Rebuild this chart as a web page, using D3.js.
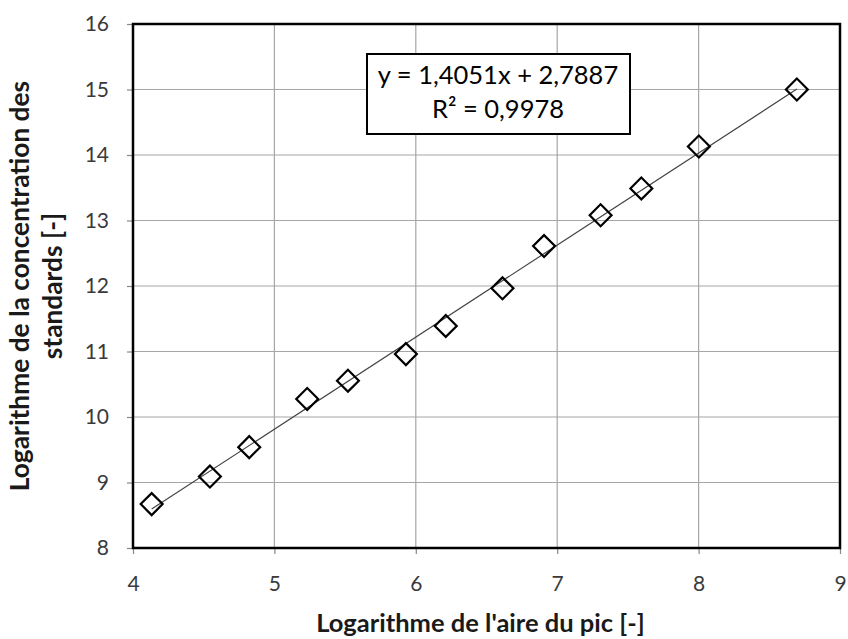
<!DOCTYPE html>
<html><head><meta charset="utf-8">
<script src="https://cdn.jsdelivr.net/npm/d3@7"></script>
<style>body{margin:0;background:#fff}svg{display:block}</style>
</head><body>
<svg id="c" width="848" height="639"></svg>
<script>
const xVals = [4.132, 4.544, 4.822, 5.232, 5.52, 5.93, 6.212, 6.613, 6.907, 7.307, 7.595, 8.002, 8.695];
const yVals = [8.67, 9.09, 9.54, 10.275, 10.555, 10.96, 11.39, 11.965, 12.61, 13.08, 13.49, 14.13, 15.0];
const xTicks = [4, 5, 6, 7, 8, 9];
const yTicks = [8, 9, 10, 11, 12, 13, 14, 15, 16];
const slope = 1.4051, intercept = 2.7887;
const eqLines = ["y = 1,4051x + 2,7887", "R² = 0,9978"];
const xTitle = "Logarithme de l'aire du pic [-]";
const yTitleLines = ["Logarithme de la concentration des", "standards [-]"];

const font = "Lato, 'Open Sans', sans-serif";
const L = 133, R = 840, T = 24, B = 548;
const svg = d3.select("#c");
const x = d3.scaleLinear().domain([4, 9]).range([L, R]);
const y = d3.scaleLinear().domain([8, 16]).range([B, T]);

// gridlines
svg.append("g").selectAll("line").data(xTicks).join("line")
  .attr("x1", d => x(d)).attr("x2", d => x(d)).attr("y1", T).attr("y2", B)
  .attr("stroke", "#a6a6a6").attr("stroke-width", 1.2);
svg.append("g").selectAll("line").data(yTicks).join("line")
  .attr("x1", L).attr("x2", R).attr("y1", d => y(d)).attr("y2", d => y(d))
  .attr("stroke", "#a6a6a6").attr("stroke-width", 1.2);

// axes
const xa = svg.append("g").attr("transform", `translate(0,${B})`)
  .call(d3.axisBottom(x).tickValues(xTicks).tickSize(6).tickPadding(22).tickFormat(d3.format("d")));
const ya = svg.append("g").attr("transform", `translate(${L},0)`)
  .call(d3.axisLeft(y).tickValues(yTicks).tickSize(6).tickPadding(18).tickFormat(d3.format("d")));
[xa, ya].forEach(a => {
  a.select(".domain").attr("stroke", "#888").attr("stroke-width", 1);
  a.selectAll(".tick line").attr("stroke", "#888").attr("stroke-width", 1.2);
  a.selectAll(".tick text").attr("font-family", font).attr("font-size", 21).attr("fill", "#3a3a3a");
});

// frame
svg.append("rect").attr("x", L).attr("y", T).attr("width", R - L).attr("height", B - T)
  .attr("fill", "none").attr("stroke", "#000").attr("stroke-width", 2.5);

// trendline
const xmin = d3.min(xVals), xmax = d3.max(xVals);
svg.append("line")
  .attr("x1", x(xmin)).attr("y1", y(slope * xmin + intercept))
  .attr("x2", x(xmax)).attr("y2", y(slope * xmax + intercept))
  .attr("stroke", "#444").attr("stroke-width", 1.2);

// markers (diamonds)
const sym = d3.symbol().type(d3.symbolSquare).size(240);
svg.append("g").selectAll("path").data(xVals.map((v, i) => [v, yVals[i]])).join("path")
  .attr("d", sym)
  .attr("transform", d => `translate(${x(d[0])},${y(d[1])}) rotate(45)`)
  .attr("fill", "none").attr("stroke", "#000").attr("stroke-width", 2.2);

// equation box
svg.append("rect").attr("x", 367).attr("y", 54).attr("width", 263).attr("height", 80)
  .attr("fill", "#fff").attr("stroke", "#000").attr("stroke-width", 2);
svg.append("g").selectAll("text").data(eqLines).join("text")
  .attr("x", 498).attr("y", (d, i) => 84 + i * 34)
  .attr("text-anchor", "middle").attr("font-family", font).attr("font-size", 25.5).attr("fill", "#000")
  .text(d => d);

// titles
svg.append("text").attr("x", (L + R) / 2 - 6).attr("y", 632).attr("text-anchor", "middle")
  .attr("font-family", font).attr("font-weight", "bold").attr("font-size", 25.5).attr("fill", "#1a1a1a")
  .text(xTitle);
svg.append("g").attr("transform", `translate(0,${(T + B) / 2}) rotate(-90)`)
  .selectAll("text").data(yTitleLines).join("text")
  .attr("x", 0).attr("y", (d, i) => 29 + i * 33).attr("text-anchor", "middle")
  .attr("font-family", font).attr("font-weight", "bold").attr("font-size", 26.3).attr("fill", "#1a1a1a")
  .text(d => d);
</script>
</body></html>
